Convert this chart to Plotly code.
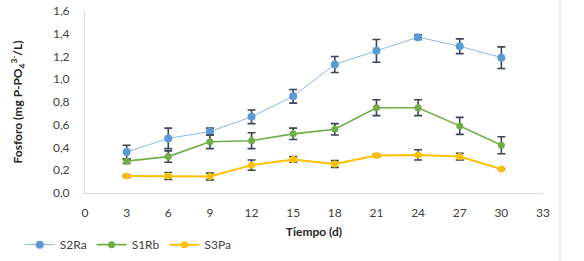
import plotly.graph_objects as go

days = [3, 6, 9, 12, 15, 18, 21, 24, 27, 30]
s2ra = [0.36, 0.48, 0.54, 0.67, 0.85, 1.13, 1.25, 1.37, 1.29, 1.19]
s2ra_err = [0.06, 0.09, 0.03, 0.06, 0.06, 0.07, 0.10, 0.02, 0.065, 0.095]
s1rb = [0.28, 0.32, 0.45, 0.46, 0.52, 0.56, 0.75, 0.75, 0.59, 0.42]
s1rb_err = [0.02, 0.05, 0.06, 0.07, 0.05, 0.05, 0.07, 0.07, 0.075, 0.075]
s3pa = [0.15, 0.15, 0.145, 0.245, 0.295, 0.255, 0.33, 0.335, 0.32, 0.21]
s3pa_err = [0.01, 0.03, 0.03, 0.045, 0.025, 0.03, 0.01, 0.045, 0.03, 0.0]

x_ticks = list(range(0, 34, 3))
y_ticks = [0.0, 0.2, 0.4, 0.6, 0.8, 1.0, 1.2, 1.4, 1.6]

err_style = dict(type="data", thickness=1.6, width=4, color="#3b4556")

fig = go.Figure()
fig.add_trace(go.Scatter(x=days, y=s2ra, name="S2Ra", mode="lines+markers",
                         line=dict(color="#8fb9e3", width=1),
                         marker=dict(color="#5b9bd5", size=8),
                         error_y=dict(array=s2ra_err, **err_style)))
fig.add_trace(go.Scatter(x=days, y=s1rb, name="S1Rb", mode="lines+markers",
                         line=dict(color="#70ad47", width=1.6),
                         marker=dict(color="#70ad47", size=7),
                         error_y=dict(array=s1rb_err, **err_style)))
fig.add_trace(go.Scatter(x=days, y=s3pa, name="S3Pa", mode="lines+markers",
                         line=dict(color="#ffc000", width=2),
                         marker=dict(color="#ffc000", size=7),
                         error_y=dict(array=s3pa_err, **err_style)))

fig.update_layout(
    width=584, height=261,
    margin=dict(l=85, r=41, t=11, b=68, autoexpand=False),
    paper_bgcolor="white", plot_bgcolor="white",
    separators=", ",
    hovermode=False,
    font=dict(family="Lato, Open Sans, sans-serif", size=12, color="#404040"),
    showlegend=True,
    legend=dict(orientation="h", x=-0.1425, xanchor="left", y=-0.204, yanchor="top",
                font=dict(size=12, color="#404040"), itemwidth=30,
                tracegroupgap=0, bgcolor="rgba(0,0,0,0)"),
    xaxis=dict(range=[0, 33], tickvals=x_ticks, ticktext=[str(v) for v in x_ticks],
               showgrid=False, zeroline=False, showline=True, linecolor="#d9d9d9",
               linewidth=1, ticks="", ticklabelstandoff=9, automargin=False,
               tickfont=dict(size=12, color="#404040"),
               title=dict(text="<b>Tiempo (d)</b>", font=dict(size=12, color="#262626"),
                          standoff=8)),
    yaxis=dict(range=[0, 1.6], tickvals=y_ticks, tickformat=".1f",
               showgrid=False, zeroline=False, showline=True, linecolor="#d9d9d9",
               linewidth=1, ticks="", ticklabelstandoff=12, automargin=False,
               ticklabeloverflow="allow",
               tickfont=dict(size=12, color="#404040"),
               title=dict(text="<b>Fosforo (mg P-PO<sub>4</sub><sup>3-</sup>/L)</b>",
                          font=dict(size=12, color="#262626"), standoff=27)),
    shapes=[dict(type="line", xref="paper", yref="paper", x0=1.037, x1=1.037,
                 y0=-68/182, y1=1+11/182, line=dict(color="#d9d9d9", width=1))],
)

fig.write_html("out.html", config={"displayModeBar": False},
               post_script="document.body.style.margin='0';")
